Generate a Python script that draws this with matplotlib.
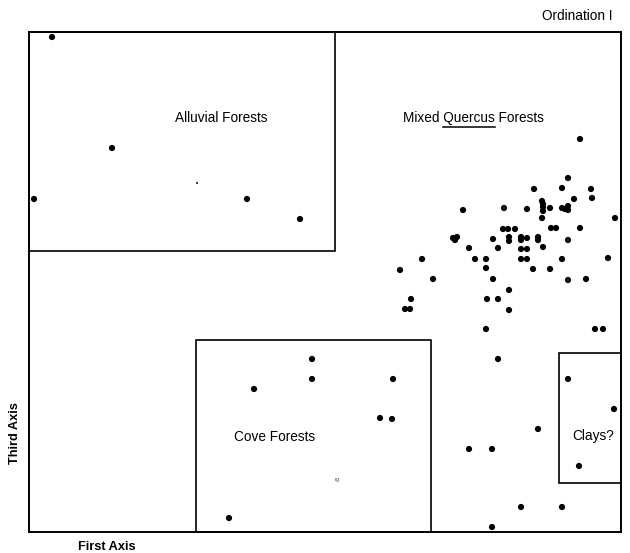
import matplotlib
matplotlib.use("Agg")
import matplotlib.pyplot as plt
from matplotlib.patches import Rectangle

plt.rcParams["font.family"] = ["Liberation Sans", "DejaVu Sans"]

# stand scores on the first (x) and third (y) axes
alluvial_x = [23, 83, 5, 218, 271]
alluvial_y = [495, 384, 333, 333, 313]

quercus_x = [551, 539, 505, 533, 562, 563, 545, 513, 514, 514, 514, 521,
             533, 536, 539, 539, 434, 475, 498, 513, 586,
             474, 479, 486, 522, 527, 551,
             424, 428, 426, 464, 480, 480, 492, 492, 498, 509, 509, 539,
             440, 469, 492, 498, 514,
             393, 446, 457, 492, 498, 533, 579,
             371, 457, 504, 521,
             404, 464, 539, 557,
             480, 382, 458, 469, 376, 381, 480,
             457, 566, 574,
             469, 509, 440, 463, 492, 533, 463]
quercus_y = [393, 354, 343, 344, 343, 334, 333, 331, 328, 325, 321, 324,
             324, 323, 326, 322, 322, 324, 323, 314, 314,
             303, 303, 303, 304, 304, 304,
             294, 295, 292, 293, 295, 291, 295, 292, 294, 295, 292, 292,
             284, 284, 283, 283, 285,
             273, 273, 273, 273, 273, 273, 274,
             262, 264, 263, 263,
             253, 253, 252, 253,
             242, 233, 233, 233, 223, 223, 222,
             203, 203, 203,
             173, 103, 83, 83, 25, 25, 5]

clays_x = [539, 585, 550]
clays_y = [153, 123, 66]

cove_x = [283, 283, 225, 364, 351, 363, 200]
cove_y = [173, 153, 143, 153, 114, 113, 14]

# group boxes: (x0, y0, x1, y1)
boxes = {
    "Alluvial": (0, 281, 306, 500),
    "Cove": (167, 0, 402, 192),
    "Clays": (530, 49, 592, 179),
}

fig = plt.figure(figsize=(6.3, 5.53), dpi=100)
ax = fig.add_axes([29 / 630, 21 / 553, 592 / 630, 500 / 553])
ax.set_xlim(0, 592)
ax.set_ylim(0, 500)
ax.set_xticks([])
ax.set_yticks([])
for s in ax.spines.values():
    s.set_linewidth(1.4)

for name, (x0, y0, x1, y1) in boxes.items():
    ax.add_patch(Rectangle((x0, y0), x1 - x0, y1 - y0, fill=False,
                           edgecolor="black", linewidth=1.2, zorder=2))

for xs, ys in [(alluvial_x, alluvial_y), (quercus_x, quercus_y),
               (clays_x, clays_y), (cove_x, cove_y)]:
    ax.scatter(xs, ys, s=20, color="black", edgecolors="none", zorder=3)

# small speck in the alluvial box
ax.scatter([168], [349], s=2, color="black", edgecolors="none", zorder=3)

fs = 9.8
ax.text(192, 414, "Alluvial Forests", ha="center", va="center", fontsize=fs)
ax.text(246, 95, "Cove Forests", ha="center", va="center", fontsize=fs)
ax.text(564, 96, "Clays?", ha="center", va="center", fontsize=fs)
ax.text(308, 53, "rg", ha="center", va="center", fontsize=4, color="0.3")

mixed = ax.text(374, 414, "Mixed Quercus Forests", ha="left", va="center",
                fontsize=fs)

# underline "Quercus"
fig.canvas.draw()
r = fig.canvas.get_renderer()
tmp1 = ax.text(374, 414, "Mixed Quercus", ha="left", va="center", fontsize=fs)
tmp2 = ax.text(374, 414, "Quercus", ha="left", va="center", fontsize=fs)
e1 = tmp1.get_window_extent(r)
e2 = tmp2.get_window_extent(r)
emain = mixed.get_window_extent(r)
tmp1.remove()
tmp2.remove()
inv = ax.transData.inverted()
xa, yb = inv.transform((e1.x1 - e2.width, emain.y0 - 1.5))
xb, _ = inv.transform((e1.x1, emain.y0 - 1.5))
ax.plot([xa, xb], [yb, yb], color="black", linewidth=1.1)

fig.text(612 / 630, 1 - 16 / 553, "Ordination I", ha="right", va="center",
         fontsize=fs)
fig.text(15 / 630, 1 - 433 / 553, "Third Axis", ha="center", va="center",
         rotation=90, fontsize=9.2, fontweight="bold")
fig.text(107 / 630, 1 - 547 / 553, "First Axis", ha="center", va="center",
         fontsize=9.2, fontweight="bold")

fig.savefig("out.png", dpi=100)
